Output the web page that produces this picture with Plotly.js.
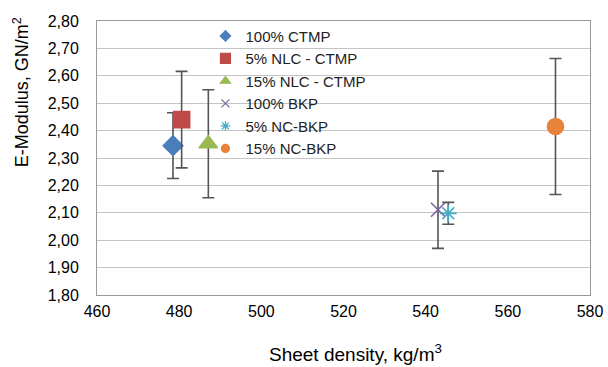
<!DOCTYPE html>
<html><head><meta charset="utf-8">
<script src="https://cdn.plot.ly/plotly-3.0.1.min.js"></script>
<style>html,body{margin:0;padding:0;background:#fff}#chart{width:608px;height:367px}</style>
</head><body><div id="chart"></div>
<script>
const names = ["100% CTMP","5% NLC - CTMP","15% NLC - CTMP","100% BKP","5% NC-BKP","15% NC-BKP"];
const density = [478.5, 480.6, 487.1, 543.0, 545.5, 571.6];
const modulus = [2.345, 2.440, 2.352, 2.111, 2.098, 2.415];
const errorSD = [0.120, 0.176, 0.197, 0.141, 0.040, 0.248];
const colors = ["#4A7EBB","#BE4B48","#98B954","#7D60A0","#46AAC5","#E8823A"];
const symbols = ["diamond","square","triangle-up","x-thin-open","asterisk-open","circle"];
const sizes = [15, 16, 16, 14, 14, 16];
const legendSizes = [8, 10, 9, 8, 8, 8];
const xTitle = "Sheet density, kg/m<sup>3</sup>";
const yTitle = "E-Modulus, GN/m<sup>2</sup>";

const traces = [];
for (let i = 0; i < names.length; i++) {
  traces.push({
    type: "scatter", mode: "markers", x: [density[i]], y: [modulus[i]],
    name: names[i], showlegend: false, legendgroup: "g"+i,
    marker: {symbol: symbols[i], size: sizes[i], color: colors[i], line: {color: colors[i], width: 1.6}},
    error_y: {type: "data", array: [errorSD[i]], visible: true, color: "#555555", thickness: 1.6, width: 6}
  });
}
for (let i = 0; i < names.length; i++) {
  traces.push({
    type: "scatter", mode: "markers", x: [null], y: [null],
    name: names[i], showlegend: true, legendgroup: "g"+i,
    marker: {symbol: symbols[i], size: legendSizes[i], color: colors[i], line: {color: colors[i], width: 1.2}}
  });
}

const layout = {
  width: 608, height: 367,
  margin: {l: 97, r: 18, t: 21, b: 72},
  paper_bgcolor: "#ffffff", plot_bgcolor: "#ffffff",
  separators: ", ",
  font: {family: "Liberation Sans, Arial, sans-serif", size: 16, color: "#000000"},
  showlegend: true,
  legend: {x: 0.22, y: 1.005, xanchor: "left", yanchor: "top", bgcolor: "rgba(0,0,0,0)",
           font: {size: 15, color: "#222222"}, tracegroupgap: 0, itemclick: false},
  xaxis: {range: [460, 580], dtick: 20, tick0: 460, showgrid: false, zeroline: false,
          showline: true, linecolor: "#9a9a9a", linewidth: 1, mirror: true, ticks: "",
          tickfont: {size: 16}, ticklabelstandoff: 2},
  yaxis: {range: [1.8, 2.8], dtick: 0.1, tick0: 1.8, tickformat: ".2f", showgrid: true,
          gridcolor: "#c4c4c4", gridwidth: 1, zeroline: false,
          showline: true, linecolor: "#9a9a9a", linewidth: 1, mirror: true, ticks: "",
          tickfont: {size: 16}, ticklabelstandoff: 14},
  annotations: [
    {text: xTitle, xref: "paper", yref: "paper", x: 0.524, y: -0.212, xanchor: "center", yanchor: "middle",
     showarrow: false, font: {size: 19, color: "#000000"}},
    {text: yTitle, xref: "paper", yref: "paper", x: -0.154, y: 0.74, xanchor: "center", yanchor: "middle",
     textangle: -90, showarrow: false, font: {size: 18, color: "#000000"}}
  ]
};
Plotly.newPlot("chart", traces, layout, {displayModeBar: false, staticPlot: true});
</script></body></html>
